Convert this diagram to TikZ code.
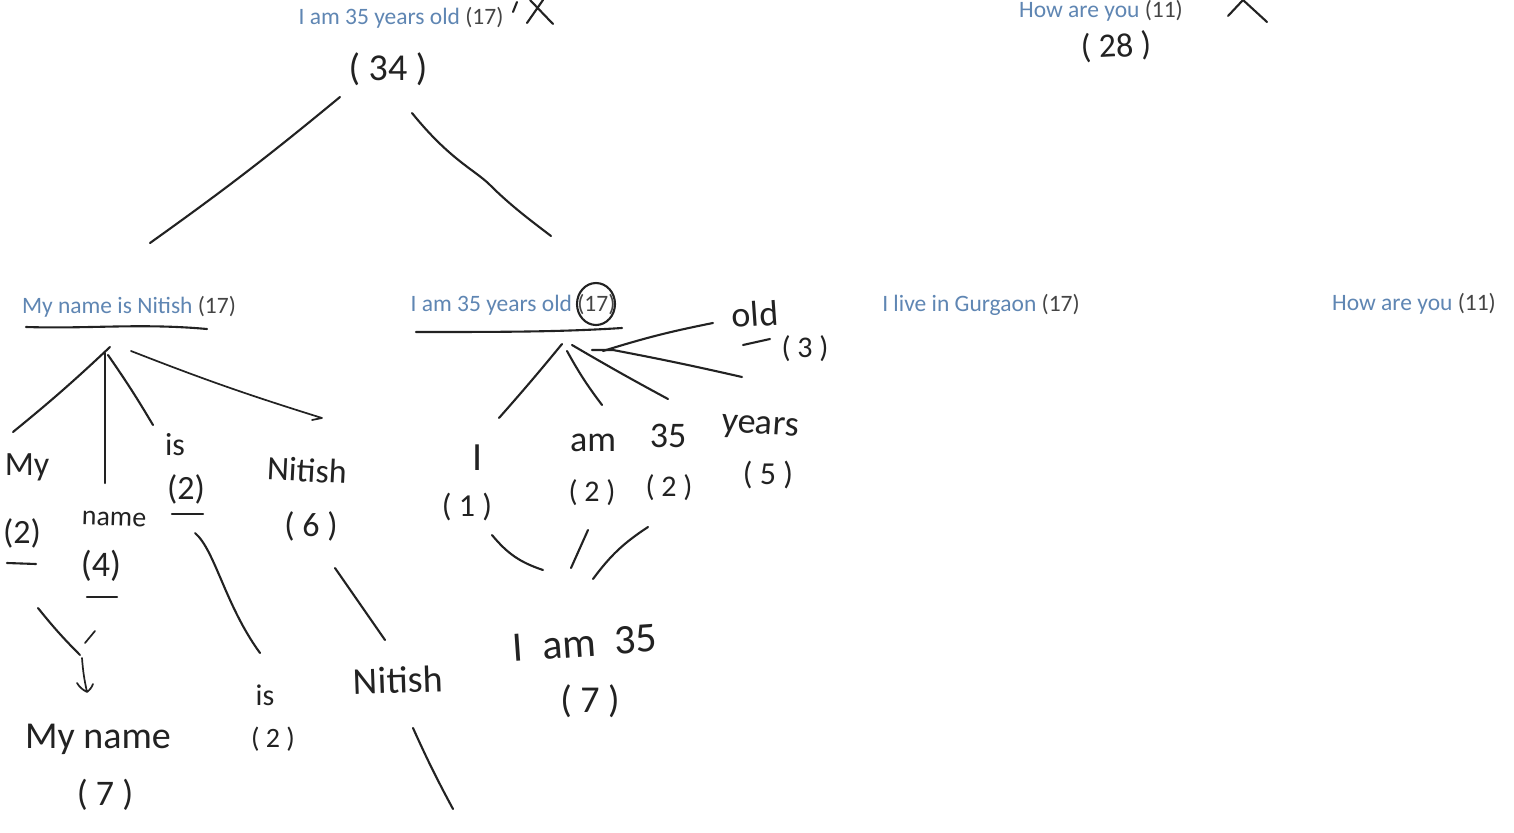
\documentclass[tikz,border=0pt]{standalone}
\usepackage{fontspec}
\setmainfont{Carlito}
\definecolor{typedblue}{HTML}{5F86B3}
\definecolor{typedgray}{HTML}{444444}
\definecolor{ink}{HTML}{222222}
\newcommand{\typedsize}{\fontsize{23.5}{26}\selectfont}
\newcommand{\typedline}[2]{{\color{typedblue}#1} {\color{typedgray}#2}}
\tikzset{
  typed/.style={inner sep=0pt,font=\typedsize},
  hand/.style={inner sep=0pt,text=ink,font=\fontsize{#1}{#1}\selectfont},
  hand/.default=36,
  stroke/.style={draw=ink,line width=2.1pt,line cap=round,line join=round},
  thin stroke/.style={draw=ink,line width=1.7pt,line cap=round,line join=round}
}
\begin{document}
\begin{tikzpicture}[x=1pt,y=-1pt]
\useasboundingbox[fill=white] (0,0) rectangle (1514,832);
% typed sentences
\node[typed] (topA) at (401,18) {\typedline{I am 35 years old}{(17)}};
\node[typed] (topB) at (1101,11) {\typedline{How are you}{(11)}};
\node[typed] (s1) at (129,307) {\typedline{My name is Nitish}{(17)}};
\node[typed] (s2) at (513,305) {\typedline{I am 35 years old}{(17)}};
\node[typed] (s3) at (981,305) {\typedline{I live in Gurgaon}{(17)}};
\node[typed] (s4) at (1414,304) {\typedline{How are you}{(11)}};
% handwritten values
\node[hand=38] (sum34) at (388,69) {( 34 )};
\node[hand=34,rotate=3] (sum28) at (1116,47) {( 28 )};
\node[hand=34] (wMy) at (27,467) {My};
\node[hand=34] (nMy) at (22,533) {(2)};
\node[hand=28,rotate=-2] (wName) at (114,519) {name};
\node[hand=36] (nName) at (101,566) {(4)};
\node[hand=32] (wIs) at (175,445) {is};
\node[hand=34] (nIs) at (186,489) {(2)};
\node[hand=34,rotate=-3] (wNitish) at (307,470) {Nitish};
\node[hand=34] (nNitish) at (311,526) {( 6 )};
\node[hand=40] (wI) at (478,458) {I};
\node[hand=32] (nI) at (467,507) {( 1 )};
\node[hand=36] (wAm) at (593,443) {am};
\node[hand=30] (nAm) at (592,493) {( 2 )};
\node[hand=36] (w35) at (668,436) {35};
\node[hand=30] (n35) at (669,488) {( 2 )};
\node[hand=36,rotate=-4] (wYears) at (760,428) {years};
\node[hand=32] (nYears) at (768,475) {( 5 )};
\node[hand=36,rotate=4] (wOld) at (755,314) {old};
\node[hand=30] (nOld) at (805,349) {( 3 )};
\node[hand=38] (myName) at (98,739) {My name};
\node[hand=36] (myNameN) at (105,795) {( 7 )};
\node[hand=30] (isBottom) at (265,695) {is};
\node[hand=28] (isBottomN) at (273,739) {( 2 )};
\node[hand=38,rotate=2] (nitishBottom) at (398,680) {Nitish};
\node[hand=42,rotate=4] (iAm35) at (585,643) {\spaceskip=.45em I am 35};
\node[hand=38] (iAm35N) at (590,701) {( 7 )};
% free ends of the hand-drawn connectors
\coordinate (rootL) at (340,97);
\coordinate (rootLend) at (150,243);
\coordinate (rootR) at (412,113);
\coordinate (rootRend) at (551,236);
\coordinate (fanA) at (110,347);
\coordinate (fanB) at (105,353);
\coordinate (fanC) at (108,355);
\coordinate (fanD) at (131,351);
\coordinate (toMy) at (13,432);
\coordinate (toName) at (105,483);
\coordinate (toIs) at (153,425);
\coordinate (toNitish) at (322,418);
\coordinate (fan2A) at (562,344);
\coordinate (fan2B) at (567,351);
\coordinate (fan2C) at (572,345);
\coordinate (fan2D) at (592,350);
\coordinate (fan2E) at (603,351);
\coordinate (toI) at (499,418);
\coordinate (toAm) at (602,405);
\coordinate (to35) at (668,399);
\coordinate (toYears) at (742,377);
\coordinate (toOld) at (713,323);
\coordinate (myDown) at (38,608);
\coordinate (myMeet) at (80,655);
\coordinate (nameDown) at (95,631);
\coordinate (nameMeet) at (85,643);
\coordinate (arrowTop) at (82,658);
\coordinate (arrowTip) at (87,692);
\coordinate (isDown) at (195,533);
\coordinate (isEnd) at (260,653);
\coordinate (nitishDown) at (335,568);
\coordinate (nitishEnd) at (385,640);
\coordinate (nitishNext) at (413,728);
\coordinate (nitishNextEnd) at (453,809);
\coordinate (iDown) at (492,535);
\coordinate (iEnd) at (543,570);
\coordinate (amDown) at (588,530);
\coordinate (amEnd) at (571,568);
\coordinate (d35Down) at (648,527);
\coordinate (d35End) at (593,579);
% connectors
\draw[stroke] (rootL) to[bend left=2] (rootLend);
\draw[stroke] (rootR) .. controls (450,160) and (475,170) .. (490,185) .. controls (510,205) and (530,220) .. (rootRend);
\draw[stroke] (fanA) to[bend left=2] (toMy);
\draw[stroke] (fanB) -- (toName);
\draw[stroke] (fanC) to[bend left=2] (toIs);
\draw[thin stroke] (fanD) to[bend right=2] (toNitish) -- ++(-10,2);
\draw[stroke] (fan2A) to[bend left=1] (toI);
\draw[stroke] (fan2B) to[bend right=4] (toAm);
\draw[stroke] (fan2C) to[bend right=1] (to35);
\draw[stroke] (fan2D) -- ++(21,0) to[bend left=1] (toYears);
\draw[stroke] (fan2E) to[bend left=3] (toOld);
\draw[stroke] (myDown) to[bend right=3] (myMeet);
\draw[thin stroke] (nameDown) -- (nameMeet);
\draw[thin stroke] (arrowTop) to[bend right=4] (arrowTip) (arrowTip) to[bend left=15] ++(-10,-9) (arrowTip) to[bend right=15] ++(6,-8);
\draw[stroke] (isDown) .. controls (215,550) and (225,605) .. (isEnd);
\draw[stroke] (nitishDown) -- (nitishEnd);
\draw[stroke] (nitishNext) to[bend right=2] (nitishNextEnd);
\draw[stroke] (iDown) to[bend right=16] (iEnd);
\draw[stroke] (amDown) -- (amEnd);
\draw[stroke] (d35Down) to[bend right=10] (d35End);
% strokes at the top edge, cut off by the frame
\draw[stroke] (517,2) -- (513,12);
\draw[stroke] (527,23) -- (543,0) (530,0) -- (553,24);
\draw[stroke] (1228,16) -- (1243,0) -- (1267,22);
% underlines and the circle round (17)
\draw[stroke] (26,327) .. controls (90,329) and (140,323) .. (207,329);
\draw[stroke] (416,332) .. controls (500,332) and (560,332) .. (622,328);
\draw[stroke] (7,563) -- ++(29,1);
\draw[stroke] (87,597) -- ++(30,0);
\draw[stroke] (172,514) -- ++(31,0);
\draw[stroke] (743,345) -- ++(27,-6);
\draw[stroke] (596,304) ellipse[x radius=19,y radius=21];
\end{tikzpicture}
\end{document}
